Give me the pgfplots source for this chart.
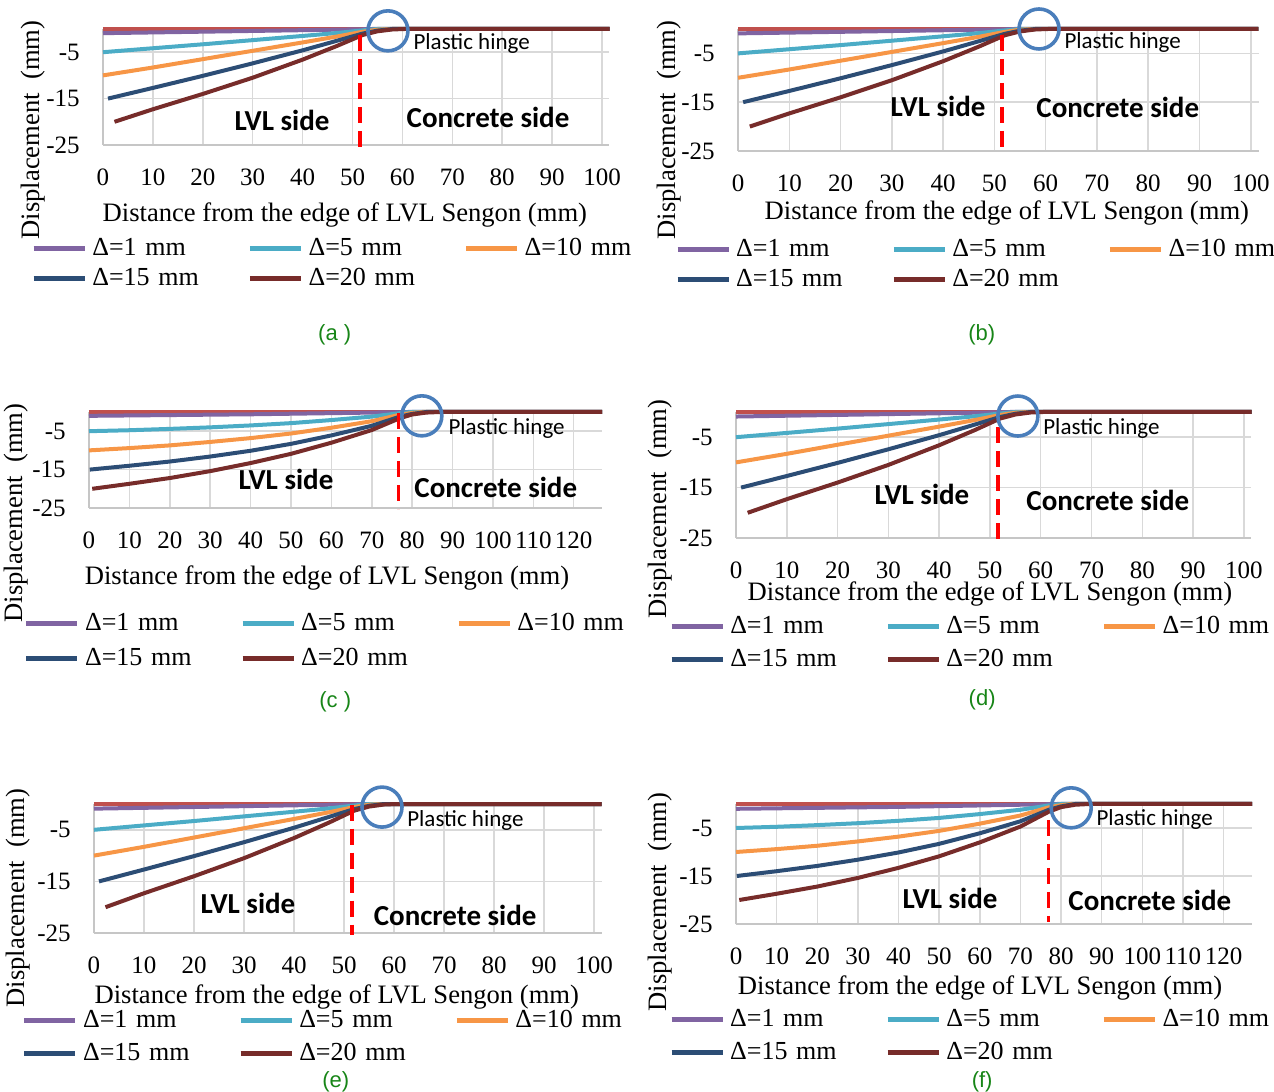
\documentclass[border=0pt]{standalone}
\usepackage{pgfplots}
\pgfplotsset{compat=1.18}
\usepackage{pgfplotstable}
\usepackage{fontspec}
\setmainfont{Liberation Serif}
\newfontfamily\calib{Carlito}
\newfontfamily\arialf{Liberation Sans}

\definecolor{s1}{HTML}{8064A2}
\definecolor{s5}{HTML}{4BACC6}
\definecolor{s10}{HTML}{F79646}
\definecolor{s15}{HTML}{2C4D75}
\definecolor{s20}{HTML}{772C2A}
\definecolor{sbase}{HTML}{C0504D}
\definecolor{circ}{HTML}{4A7EBB}
\definecolor{gridgray}{HTML}{D9D9D9}
\definecolor{axisgray}{HTML}{C6C6C6}
\definecolor{capgreen}{HTML}{178517}

% hinge at about 51.5 mm (panels a, b, d, e)
\pgfplotstableread{
x y
0 -0.9
25 -0.5
52 -0.06
54 0
101.5 0
}\Aa
\pgfplotstableread{
x y
0 -5
10 -4.15
20 -3.3
30 -2.4
40 -1.5
47 -0.85
52 -0.3
55 0
101.5 0
}\Ab
\pgfplotstableread{
x y
0 -10
10 -8.3
20 -6.5
30 -4.7
40 -2.9
47 -1.6
52 -0.6
55 -0.15
57.5 0
101.5 0
}\Ac
\pgfplotstableread{
x y
1 -15
10 -12.7
20 -10.1
30 -7.4
40 -4.6
47 -2.5
52 -1.0
55 -0.35
58 0
101.5 0
}\Ad
\pgfplotstableread{
x y
2.3 -20
10 -17.3
20 -14.0
30 -10.5
40 -6.6
47 -3.6
52 -1.3
55 -0.5
58 -0.1
60.5 0
101.5 0
}\Ae
% hinge at about 77 mm (panels c, f)
\pgfplotstableread{
x y
0 -1
40 -0.6
75 -0.08
79 0
127 0
}\Ca
\pgfplotstableread{
x y
0 -5
10 -4.75
20 -4.4
30 -4.0
40 -3.5
50 -2.9
60 -2.1
70 -1.2
77 -0.3
80 0
127 0
}\Cb
\pgfplotstableread{
x y
0 -10
10 -9.4
20 -8.7
30 -7.8
40 -6.8
50 -5.6
60 -4.1
70 -2.4
77 -0.7
80 -0.25
82.5 0
127 0
}\Cc
\pgfplotstableread{
x y
0.2 -15
10 -14.0
20 -12.9
30 -11.6
40 -10.1
50 -8.3
60 -6.1
70 -3.6
77 -1.2
80 -0.5
83.5 0
127 0
}\Cd
\pgfplotstableread{
x y
0.8 -20
10 -18.7
20 -17.2
30 -15.4
40 -13.3
50 -10.9
60 -8.0
70 -4.7
77 -1.6
80 -0.65
83.5 -0.15
87 0
127 0
}\Ce

\pgfplotsset{
  legend image code/.code={\draw[#1, line width=2.6pt] (0pt,0pt) -- (25.5pt,0pt);},
  base/.style={
    scale only axis, clip=false, anchor=south west,
    ymin=-25, ymax=0, ytick={-25,-15,-5},
    xmin=0,
    axis x line*=bottom, axis y line*=left,
    axis line style={draw=axisgray, line width=0.8pt},
    grid=major, grid style={draw=gridgray, line width=0.75pt},
    major tick length=0pt,
    /pgf/number format/assume math mode=true,
    tick label style={font=\fontsize{12.5}{14}\selectfont},
    xticklabel style={anchor=center, yshift=-16pt},
    yticklabel style={anchor=east, inner sep=0pt, xshift=-11.5pt},
    label style={font=\fontsize{13.3}{15}\selectfont},
    xlabel={Distance from the edge of LVL Sengon (mm)},
    ylabel={Displacement\ \ (mm)},
    legend columns=3,
    legend style={draw=none, fill=none, inner sep=0pt, outer sep=0pt,
      anchor=north west, font=\fontsize{13}{15}\selectfont,
      nodes={inner sep=0pt, text width=77.5pt, align=left},
      /tikz/every odd column/.style={column sep=2.5pt}},
  },
  ln/.style={line width=2pt},
  hingedash/.style={red, line width=1.6pt, dash pattern=on 8pt off 4pt, forget plot},
  hingecirc/.style={only marks, mark=o, mark size=10pt, mark options={draw=circ, line width=1.8pt}, forget plot},
}
\newcommand\PH{\calib\fontsize{11.5}{13}\selectfont}
\newcommand\SD{\calib\bfseries\fontsize{14.5}{16}\selectfont}
\newcommand\CAP{\arialf\fontsize{11}{13}\selectfont}

\begin{document}
\begin{tikzpicture}
\path[use as bounding box] (0,0) rectangle (637pt,546pt);

% (a)
\begin{axis}[base, at={(51.5pt,473.5pt)}, width=253pt, height=58pt,
  xmax=101.4, xtick={0,10,...,100},
  xlabel style={at={(axis description cs:0.478,-0.603)}, anchor=center},
  ylabel style={at={(axis description cs:-0.138,0.129)}, anchor=center},
  legend style={at={(-0.142,-0.805)}, row sep=4.9pt}]
\addplot[sbase, ln, forget plot] coordinates {(0,0) (101.5,0)};
\addplot[s1, ln] table {\Aa}; \addlegendentry{Δ=1 mm}
\addplot[s5, ln] table {\Ab}; \addlegendentry{Δ=5 mm}
\addplot[s10, ln] table {\Ac}; \addlegendentry{Δ=10 mm}
\addplot[s15, ln] table {\Ad}; \addlegendentry{Δ=15 mm}
\addplot[s20, ln] table {\Ae}; \addlegendentry{Δ=20 mm}
\addplot[hingedash] coordinates {(51.5,-1.3) (51.5,-25.4)};
\addplot[hingecirc] coordinates {(57.1,-0.4)};
\node[font=\PH, anchor=west, inner sep=0pt] at (rel axis cs:0.613,0.879) {Plastic hinge};
\node[font=\SD, inner sep=0pt] at (rel axis cs:0.354,0.216) {LVL side};
\node[font=\SD, inner sep=0pt] at (rel axis cs:0.761,0.241) {Concrete side};
\node[font=\CAP, text=capgreen, inner sep=0pt] at (rel axis cs:0.458,-1.638) {(a )};
\end{axis}

% (b)
\begin{axis}[base, at={(369pt,470.5pt)}, width=260.5pt, height=61pt,
  xmax=101.6, xtick={0,10,...,100},
  xlabel style={at={(axis description cs:0.516,-0.508)}, anchor=center},
  ylabel style={at={(axis description cs:-0.132,0.172)}, anchor=center},
  legend style={at={(-0.121,-0.725)}, row sep=4.9pt}]
\addplot[sbase, ln, forget plot] coordinates {(0,0) (101.5,0)};
\addplot[s1, ln] table {\Aa}; \addlegendentry{Δ=1 mm}
\addplot[s5, ln] table {\Ab}; \addlegendentry{Δ=5 mm}
\addplot[s10, ln] table {\Ac}; \addlegendentry{Δ=10 mm}
\addplot[s15, ln] table {\Ad}; \addlegendentry{Δ=15 mm}
\addplot[s20, ln] table {\Ae}; \addlegendentry{Δ=20 mm}
\addplot[hingedash] coordinates {(51.5,-1.2) (51.5,-25.2)};
\addplot[hingecirc] coordinates {(58.7,0)};
\node[font=\PH, anchor=west, inner sep=0pt] at (rel axis cs:0.626,0.893) {Plastic hinge};
\node[font=\SD, inner sep=0pt] at (rel axis cs:0.384,0.369) {LVL side};
\node[font=\SD, inner sep=0pt] at (rel axis cs:0.729,0.361) {Concrete side};
\node[font=\CAP, text=capgreen, inner sep=0pt] at (rel axis cs:0.468,-1.508) {(b)};
\end{axis}

% (c)
\begin{axis}[base, at={(44.5pt,292pt)}, width=256.5pt, height=48pt,
  xmax=127, xtick={0,10,...,120},
  xlabel style={at={(axis description cs:0.464,-0.729)}, anchor=center},
  ylabel style={at={(axis description cs:-0.142,-0.052)}, anchor=center},
  legend style={at={(-0.127,-1.098)}, row sep=7.4pt}]
\addplot[sbase, ln, forget plot] coordinates {(0,0) (127,0)};
\addplot[s1, ln] table {\Ca}; \addlegendentry{Δ=1 mm}
\addplot[s5, ln] table {\Cb}; \addlegendentry{Δ=5 mm}
\addplot[s10, ln] table {\Cc}; \addlegendentry{Δ=10 mm}
\addplot[s15, ln] table {\Cd}; \addlegendentry{Δ=15 mm}
\addplot[s20, ln] table {\Ce}; \addlegendentry{Δ=20 mm}
\addplot[hingedash] coordinates {(76.7,-0.3) (76.7,-25.3)};
\addplot[hingecirc] coordinates {(82.4,-1.0)};
\node[font=\PH, anchor=west, inner sep=0pt] at (rel axis cs:0.700,0.833) {Plastic hinge};
\node[font=\SD, inner sep=0pt] at (rel axis cs:0.384,0.302) {LVL side};
\node[font=\SD, inner sep=0pt] at (rel axis cs:0.793,0.219) {Concrete side};
\node[font=\CAP, text=capgreen, inner sep=0pt] at (rel axis cs:0.480,-2.021) {(c )};
\end{axis}

% (d)
\begin{axis}[base, at={(368pt,277pt)}, width=257.5pt, height=63pt,
  xmax=101.4, xtick={0,10,...,100},
  xlabel style={at={(axis description cs:0.493,-0.444)}, anchor=center},
  ylabel style={at={(axis description cs:-0.148,0.230)}, anchor=center},
  legend style={at={(-0.130,-0.622)}, row sep=6.4pt}]
\addplot[sbase, ln, forget plot] coordinates {(0,0) (101.5,0)};
\addplot[s1, ln] table {\Aa}; \addlegendentry{Δ=1 mm}
\addplot[s5, ln] table {\Ab}; \addlegendentry{Δ=5 mm}
\addplot[s10, ln] table {\Ac}; \addlegendentry{Δ=10 mm}
\addplot[s15, ln] table {\Ad}; \addlegendentry{Δ=15 mm}
\addplot[s20, ln] table {\Ae}; \addlegendentry{Δ=20 mm}
\addplot[hingedash] coordinates {(51.6,-3.0) (51.6,-25.2)};
\addplot[hingecirc] coordinates {(55.5,-0.8)};
\node[font=\PH, anchor=west, inner sep=0pt] at (rel axis cs:0.596,0.873) {Plastic hinge};
\node[font=\SD, inner sep=0pt] at (rel axis cs:0.361,0.349) {LVL side};
\node[font=\SD, inner sep=0pt] at (rel axis cs:0.722,0.302) {Concrete side};
\node[font=\CAP, text=capgreen, inner sep=0pt] at (rel axis cs:0.478,-1.286) {(d)};
\end{axis}

% (e)
\begin{axis}[base, at={(47pt,79.5pt)}, width=254pt, height=64.5pt,
  xmax=101.6, xtick={0,10,...,100},
  xlabel style={at={(axis description cs:0.478,-0.496)}, anchor=center},
  ylabel style={at={(axis description cs:-0.150,0.271)}, anchor=center},
  legend style={at={(-0.142,-0.600)}, row sep=6.4pt}]
\addplot[sbase, ln, forget plot] coordinates {(0,0) (101.5,0)};
\addplot[s1, ln] table {\Aa}; \addlegendentry{Δ=1 mm}
\addplot[s5, ln] table {\Ab}; \addlegendentry{Δ=5 mm}
\addplot[s10, ln] table {\Ac}; \addlegendentry{Δ=10 mm}
\addplot[s15, ln] table {\Ad}; \addlegendentry{Δ=15 mm}
\addplot[s20, ln] table {\Ae}; \addlegendentry{Δ=20 mm}
\addplot[hingedash] coordinates {(51.6,-0.1) (51.6,-25.3)};
\addplot[hingecirc] coordinates {(57.6,-0.6)};
\node[font=\PH, anchor=west, inner sep=0pt] at (rel axis cs:0.616,0.876) {Plastic hinge};
\node[font=\SD, inner sep=0pt] at (rel axis cs:0.303,0.233) {LVL side};
\node[font=\SD, inner sep=0pt] at (rel axis cs:0.711,0.140) {Concrete side};
\node[font=\CAP, text=capgreen, inner sep=0pt] at (rel axis cs:0.476,-1.155) {(e)};
\end{axis}

% (f)
\begin{axis}[base, at={(368pt,84pt)}, width=258pt, height=60pt,
  xmax=127, xtick={0,10,...,120},
  xlabel style={at={(axis description cs:0.473,-0.533)}, anchor=center},
  ylabel style={at={(axis description cs:-0.147,0.183)}, anchor=center},
  legend style={at={(-0.130,-0.712)}, row sep=6.4pt}]
\addplot[sbase, ln, forget plot] coordinates {(0,0) (127,0)};
\addplot[s1, ln] table {\Ca}; \addlegendentry{Δ=1 mm}
\addplot[s5, ln] table {\Cb}; \addlegendentry{Δ=5 mm}
\addplot[s10, ln] table {\Cc}; \addlegendentry{Δ=10 mm}
\addplot[s15, ln] table {\Cd}; \addlegendentry{Δ=15 mm}
\addplot[s20, ln] table {\Ce}; \addlegendentry{Δ=20 mm}
\addplot[hingedash] coordinates {(77.0,-3.3) (77.0,-24.6)};
\addplot[hingecirc] coordinates {(82.5,-0.8)};
\node[font=\PH, anchor=west, inner sep=0pt] at (rel axis cs:0.698,0.867) {Plastic hinge};
\node[font=\SD, inner sep=0pt] at (rel axis cs:0.415,0.217) {LVL side};
\node[font=\SD, inner sep=0pt] at (rel axis cs:0.802,0.200) {Concrete side};
\node[font=\CAP, text=capgreen, inner sep=0pt] at (rel axis cs:0.477,-1.317) {(f)};
\end{axis}
\end{tikzpicture}
\end{document}
